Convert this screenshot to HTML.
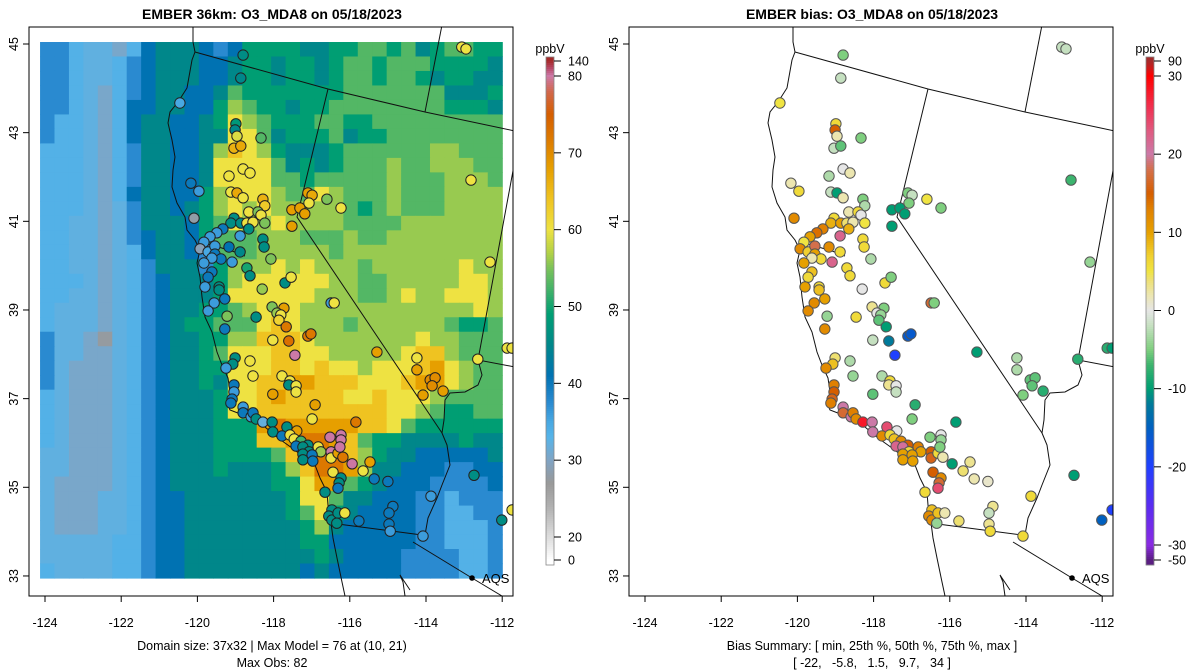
<!DOCTYPE html>
<html><head><meta charset="utf-8"><title>EMBER O3_MDA8</title>
<style>
html,body{margin:0;padding:0;background:#fff;}
svg{display:block;font-family:"Liberation Sans",Arial,sans-serif;}
</style></head>
<body>
<svg id="chart" width="1200" height="672" viewBox="0 0 1200 672" xmlns="http://www.w3.org/2000/svg"></svg>
<script>
// ---------- DATA ----------
const xTicks = [-124, -122, -120, -118, -116, -114, -112];
const yTicks = [45, 43, 41, 39, 37, 35, 33];
const gridLon0 = -124.13, gridLon1 = -112.0, gridLat0 = 45.045, gridLat1 = 32.954;
const codeChars = "0123456789ABCDE";
const codeValues = [27.5, 30.5, 32.3, 33.5, 37.5, 41, 45, 49, 53, 56, 60, 64, 68, 72, 75];
const gridRows = [
"44322135666545777766778878678877",
"44322345666556776776788788877776",
"44322345666556776776788788767766",
"44321345665568777777788888886667",
"44321355665579877677888888887776",
"4332135665567A987778877888888888",
"4332135665566AA86777867788888888",
"3332134665569BA97666788888899888",
"333213466556AAAA8676788898899988",
"333213466556AAAA8878888898889998",
"3332135665579AAA988A988898889999",
"3332124665679A9A9999987898889999",
"3322124666578A99A999988889999999",
"33221245665788899988898899999999",
"33221235665488899999899999999999",
"3322123466647999A9A9998999999A99",
"33321234566679AAAAAA998899999AA9",
"3322123456667AAAAAA999889A99AAA9",
"322212345667789AAA999999999999A9",
"322212345677888ABA99989999998778",
"422102345667799BBBA9999999A99888",
"4221123456678AAABBAA99999ABB9888",
"4211123456677AAABBABAA9AAABCA988",
"4211123456676AABBCCBBBAAABCCA988",
"3211123456667AABCBBBBAABAAA98888",
"3211123456667AABBBBBBBBBAA987788",
"321112345666777CDCCCCCBBA8777777",
"321112345666777BBCDDCB8776666766",
"22111234566677778BCDDB9766555556",
"221112345666766679BDDC9665554455",
"211112345666666677ACC87655544445",
"211122345566666667AA866555443444",
"2111223455666666678A765555443344",
"21112234556666666679655555443334",
"22222334556666666677555555443334",
"22222334556666666667655554444334",
"32222334556666666656555554444334"
];
const stationLon = [-118.80,-118.86,-120.46,-118.99,-119.01,-118.96,-118.33,-119.04,-118.86,-118.80,-118.62,-119.17,-120.17,-119.96,-119.12,-118.96,-118.80,-118.28,-118.23,-120.09,-119.04,-118.65,-118.41,-118.33,-119.12,-118.86,-118.70,-118.54,-118.23,-118.65,-119.33,-119.49,-119.67,-119.83,-118.88,-119.93,-119.72,-119.54,-119.54,-119.38,-119.17,-118.88,-119.62,-119.09,-118.28,-118.25,-118.07,-119.83,-119.62,-119.72,-118.70,-118.62,-119.80,-119.43,-119.43,-119.28,-119.56,-118.30,-117.70,-117.54,-118.04,-117.73,-116.49,-116.41,-117.10,-116.99,-117.07,-116.60,-116.23,-117.52,-117.31,-117.18,-117.52,-113.06,-112.95,-112.82,-112.32,-119.72,-119.22,-118.46,-117.91,-117.81,-117.86,-117.67,-119.28,-118.02,-117.60,-117.10,-117.02,-117.44,-115.29,-119.01,-119.07,-119.25,-118.62,-118.54,-117.78,-117.57,-117.60,-117.41,-117.41,-119.04,-119.04,-119.09,-119.12,-118.02,-116.91,-118.80,-118.80,-118.59,-118.54,-118.46,-118.28,-118.04,-118.02,-116.99,-115.84,-117.65,-117.39,-117.78,-117.57,-117.46,-117.28,-117.10,-117.41,-117.23,-117.07,-116.83,-116.76,-117.23,-117.23,-116.99,-116.97,-116.49,-116.49,-116.31,-116.18,-116.52,-116.23,-116.23,-116.26,-115.94,-115.47,-115.65,-115.36,-115.00,-116.44,-116.23,-116.28,-116.31,-116.65,-116.47,-116.55,-116.47,-116.31,-116.13,-116.34,-115.76,-114.87,-114.97,-114.97,-114.94,-114.24,-114.24,-113.89,-113.76,-113.84,-114.08,-113.55,-112.64,-111.87,-111.74,-112.74,-113.87,-112.01,-111.74,-114.08];
const stationLat = [44.75,44.23,43.67,43.20,43.06,42.92,42.88,42.65,42.70,42.18,42.09,42.02,41.86,41.68,41.66,41.64,41.53,41.50,41.35,41.07,41.07,41.21,41.21,41.14,40.96,40.96,40.96,40.98,40.96,40.83,40.83,40.74,40.65,40.53,40.67,40.38,40.31,40.44,40.26,40.15,40.42,40.31,40.17,40.08,40.60,40.42,40.15,40.06,39.86,39.74,39.95,39.77,39.52,39.52,39.45,39.25,39.16,39.47,39.61,39.74,39.07,39.04,39.16,39.16,41.64,41.59,41.41,41.50,41.30,41.26,41.30,41.17,40.89,44.93,44.89,41.93,40.08,38.98,38.86,38.84,38.93,38.89,38.77,38.62,38.57,38.32,38.30,38.41,38.46,37.98,38.05,37.92,37.78,37.69,37.85,37.51,37.51,37.40,37.31,37.29,37.15,37.31,37.15,36.99,36.90,37.10,36.86,36.81,36.68,36.59,36.68,36.54,36.47,36.47,36.25,36.54,36.47,36.36,36.27,36.16,36.18,36.09,36.04,35.95,35.93,35.91,35.80,35.91,35.80,35.75,35.62,35.73,35.59,35.80,35.66,35.77,35.68,36.13,36.18,36.07,35.91,35.53,35.57,35.37,35.19,35.13,35.34,35.21,35.10,34.98,34.89,34.49,34.35,34.26,34.42,34.42,34.19,34.24,34.57,34.42,34.17,34.01,37.92,37.65,37.42,37.47,37.29,37.08,37.17,37.89,38.14,38.14,35.27,34.80,34.26,34.49,33.90];
const stationObs = [46,45,35,48,45,59,53,66,67,60,60,60,40,36,60,67,60,66,63,28,46,60,55,60,46,46,60,60,55,46,40,36,36,36,36,29,35,36,40,40,41,45,36,36,46,46,55,36,40,40,50,46,36,46,46,40,36,56,46,60,55,68,36,60,68,67,60,55,60,68,68,68,68,60,60,60,60,36,55,46,56,60,62,72,40,60,73,72,72,80,68,46,46,36,60,60,60,60,46,60,60,40,36,40,40,68,68,36,40,36,40,46,32,46,46,60,72,46,68,40,60,60,52,46,40,46,46,60,56,46,46,40,40,80,60,68,72,82,80,80,82,82,68,60,40,40,60,46,46,40,46,46,46,46,46,60,46,40,40,40,40,36,60,68,70,70,70,68,68,60,60,60,46,36,46,60,36];
const stationBias = [-5,-2,5,6,15,2,-5,-2,-6,0,2,-3,2,6,-2,-10,2,-5,-3,12,6,2,6,0,9,10,4,2,5,9,13,14,10,5,22,12,7,18,10,6,12,6,2,22,6,6,-3,10,8,6,6,6,10,6,8,10,12,0,6,-5,3,-5,17,-5,-5,-2,-5,5,-5,-10,-10,-10,-10,-2,-2,-7,-4,12,-4,6,0,-4,-6,-10,12,-2,-12,-16,-16,-20,-10,4,8,12,-3,-4,-3,6,3,0,-2,13,15,16,13,-6,-8,20,17,20,13,12,28,20,20,-5,-10,24,0,12,6,8,12,15,22,21,6,13,10,10,10,10,10,15,16,6,2,-5,0,-4,-5,-10,3,4,2,1,15,12,17,24,6,8,12,12,8,2,-4,4,3,-2,3,6,-3,-3,-6,-6,-6,-5,-8,-8,-8,-10,-10,6,-15,-20,6];
const obsLegendTicks = [0, 20, 30, 40, 50, 60, 70, 80, 140];
const biasLegendTicks = [-50, -30, -20, -10, 0, 10, 20, 30, 90];

// ---------- SCALES / COLORS ----------
const NS = "http://www.w3.org/2000/svg";
const svg = document.getElementById("chart");
function mk(tag, attrs, parent) {
  const e = document.createElementNS(NS, tag);
  for (const k in attrs) e.setAttribute(k, attrs[k]);
  (parent || svg).appendChild(e);
  return e;
}
function xScale(lon, off) { return off + 45 + (lon + 124) * 38.1; }
function yScale(lat) { return 44 + (45 - lat) * 44.33; }
function hex(c){return [parseInt(c.substr(1,2),16),parseInt(c.substr(3,2),16),parseInt(c.substr(5,2),16)];}
function interp(stops, v) {
  if (v <= stops[0][0]) return stops[0][1];
  for (let i = 1; i < stops.length; i++) {
    if (v <= stops[i][0]) {
      const t = (v - stops[i-1][0]) / (stops[i][0] - stops[i-1][0]);
      const a = hex(stops[i-1][1]), b = hex(stops[i][1]);
      return "rgb(" + a.map((x, j) => Math.round(x + (b[j] - x) * t)).join(",") + ")";
    }
  }
  return stops[stops.length-1][1];
}
const obsStops = [[0,'#ffffff'],[20,'#dddddd'],[24,'#b0b0b0'],[27,'#999999'],[30,'#80a4c4'],[33,'#56b4e9'],[35,'#48a8e2'],[37.5,'#2a8ad0'],[41,'#0072b2'],[45,'#00878a'],[49,'#009e73'],[52,'#3fb16a'],[55,'#7cc25a'],[57,'#b3d146'],[60,'#eee242'],[64,'#efc321'],[68,'#e69f00'],[72,'#dc7800'],[75,'#d55e00'],[78,'#d1684e'],[80,'#cc79a7'],[110,'#b84a6a'],[140,'#a52a2a']];
const biasStops = [[-50,'#5a1e82'],[-30,'#8a2be2'],[-25,'#5a2cf0'],[-20,'#2040ff'],[-15,'#0060c0'],[-12,'#007a9a'],[-10,'#009e73'],[-7,'#3cb46e'],[-5,'#7fcf7f'],[-2,'#c5e0c0'],[0,'#e6e6e6'],[2,'#ece6b0'],[4,'#eee070'],[5,'#f0e442'],[7,'#f0d030'],[10,'#e6a000'],[13,'#e08000'],[15,'#d55e00'],[18,'#d4704c'],[20,'#cc79a7'],[23,'#e05a80'],[26,'#f03050'],[30,'#ff0000'],[60,'#d01818'],[90,'#a52a2a']];
const obsBarAnchors = [[0,560],[20,537],[80,76],[140,61]];
const biasBarAnchors = [[-50,560],[-30,545],[30,76],[90,61]];
function barY(anchors, v) {
  for (let i = 1; i < anchors.length; i++) if (v <= anchors[i][0]) {
    const t = (v - anchors[i-1][0]) / (anchors[i][0] - anchors[i-1][0]);
    return anchors[i-1][1] + (anchors[i][1] - anchors[i-1][1]) * t;
  }
  return anchors[anchors.length-1][1];
}
function barVal(anchors, y) {
  for (let i = 1; i < anchors.length; i++) if (y >= anchors[i][1]) {
    const t = (y - anchors[i-1][1]) / (anchors[i][1] - anchors[i-1][1]);
    return anchors[i-1][0] + (anchors[i][0] - anchors[i-1][0]) * t;
  }
  return anchors[anchors.length-1][0];
}

// ---------- MAP OUTLINES (decorative) ----------
const coastPts = "193,20 193,42 195,52 192,60 187,88 178,102 170,112 168,123 172,140 175,157 173,170 172,187 177,203 185,217 187,230 195,240 200,250 197,263 200,277 202,297 205,317 212,332 217,352 222,365 228,378 230,392 227,403 230,410 243,415 257,420 265,427 278,438 292,448 305,458 315,465 320,478 327,492 328,505 330,515 333,538 337,558 342,582 345,596";
const borderLines = [
  "195,52 328,89 425,112 515,131",
  "328,89 297,217 442,433",
  "425,112 442,25",
  "515,160 478,360 515,367",
  "478,360 482,375 478,385 465,392 450,393 445,400 444,420 442,433 447,445 450,465 442,485 437,498 428,518 425,535",
  "330,523 422,535",
  "413,542 472,578 502,596",
  "200,242 215,246 232,251 245,256",
  "405,596 403,582 400,575 410,590"
];

const panels = [
  {off: 0, name: "model", title: "EMBER 36km: O3_MDA8 on 05/18/2023", foot1: "Domain size: 37x32 | Max Model = 76 at (10, 21)", foot2: "Max Obs: 82"},
  {off: 600, name: "bias", title: "EMBER bias: O3_MDA8 on 05/18/2023", foot1: "Bias Summary: [ min, 25th %, 50th %, 75th %, max ]", foot2: "[ -22,   -5.8,   1.5,   9.7,   34 ]"}
];
const defs = mk("defs", {});
panels.forEach((p, pi) => {
  const cp = mk("clipPath", {id: "clip" + pi}, defs);
  mk("rect", {x: 29 + p.off, y: 27, width: 484, height: 569}, cp);
});

panels.forEach((p, pi) => {
  const g = mk("g", {});
  
  
  const plot = mk("g", {"clip-path": "url(#clip" + pi + ")"}, g);
  
  

  if (pi === 0) {
    const hm = mk("g", {}, plot);
    
    
    const x0 = xScale(gridLon0, 0), x1 = xScale(gridLon1, 0);
    const y0 = yScale(gridLat0), y1 = yScale(gridLat1);
    const nr = gridRows.length, nc = 32;
    const cw = (x1 - x0) / nc, ch = (y1 - y0) / nr;
    for (let r = 0; r < nr; r++) for (let c = 0; c < nc; c++) {
      const v = codeValues[codeChars.indexOf(gridRows[r][c])];
      const cell = mk("rect", {x: (x0 + c*cw).toFixed(2), y: (y0 + r*ch).toFixed(2), width: (cw+0.6).toFixed(2), height: (ch+0.6).toFixed(2), fill: interp(obsStops, v)}, hm);
      
      
    }
  }
  const lines = mk("g", {transform: "translate(" + p.off + ",0)", fill: "none", stroke: "#111", "stroke-width": "1"}, plot);
  
  
  const coast = mk("polyline", {points: coastPts}, lines);
  
  
  borderLines.forEach(b => {
    const bl = mk("polyline", {points: b}, lines);
    
    
  });

  const pts = mk("g", {}, plot);
  
  
  for (let i = 0; i < stationLon.length; i++) {
    const val = pi === 0 ? stationObs[i] : stationBias[i];
    const col = pi === 0 ? interp(obsStops, val) : interp(biasStops, val);
    const c = mk("circle", {cx: xScale(stationLon[i], p.off).toFixed(1), cy: yScale(stationLat[i]).toFixed(1), r: 5.2, fill: col, stroke: pi === 0 ? "#222" : "#555", "stroke-width": 1}, pts);
    
    
  }
  const aq = mk("circle", {cx: 472 + p.off, cy: 578, r: 2.8, fill: "#000"}, g);
  
  
  const aqt = mk("text", {x: 482 + p.off, y: 583, "font-size": 13, fill: "#000"}, g);
  aqt.textContent = "AQS";
  
  

  const fr = mk("rect", {x: 29 + p.off, y: 27, width: 484, height: 569, fill: "none", stroke: "#000", "stroke-width": 1}, g);
  
  

  xTicks.forEach(t => {
    const x = xScale(t, p.off);
    const tk = mk("line", {x1: x, x2: x, y1: 596, y2: 602, stroke: "#000"}, g);
    
    
    const tl = mk("text", {x: x, y: 627, "text-anchor": "middle", "font-size": 12.5}, g);
    tl.textContent = String(t);
    
    
  });
  yTicks.forEach(t => {
    const y = yScale(t);
    const tk = mk("line", {x1: 23 + p.off, x2: 29 + p.off, y1: y, y2: y, stroke: "#000"}, g);
    
    
    const tl = mk("text", {x: 18 + p.off, y: y, "text-anchor": "middle", "font-size": 12.5, transform: "rotate(-90 " + (18 + p.off) + " " + y + ")"}, g);
    tl.textContent = String(t);
    
    
  });
  const ti = mk("text", {x: 272 + p.off, y: 19, "text-anchor": "middle", "font-size": 14, "font-weight": "bold"}, g);
  ti.textContent = p.title;
  
  
  const f1 = mk("text", {x: 272 + p.off, y: 650, "text-anchor": "middle", "font-size": 12.5}, g);
  f1.textContent = p.foot1;
  
  
  const f2 = mk("text", {x: 272 + p.off, y: 667, "text-anchor": "middle", "font-size": 12.5}, g);
  f2.textContent = p.foot2;
  f2.style.whiteSpace = "pre";
  
  

  const cb = mk("g", {}, g);
  
  
  const anchors = pi === 0 ? obsBarAnchors : biasBarAnchors;
  const stops = pi === 0 ? obsStops : biasStops;
  const bx = 546 + p.off;
  for (let y = 57; y < 565; y += 2) {
    const v = barVal(anchors, y + 1);
    const s = mk("rect", {x: bx, y: y, width: 8, height: 2.3, fill: interp(stops, v)}, cb);
    
    
  }
  const cbf = mk("rect", {x: bx, y: 57, width: 8, height: 508, fill: "none", stroke: "#888", "stroke-width": 0.8}, cb);
  
  
  const ticks = pi === 0 ? obsLegendTicks : biasLegendTicks;
  ticks.forEach(t => {
    const y = barY(anchors, t);
    const tk = mk("line", {x1: bx + 8, x2: bx + 15, y1: y, y2: y, stroke: "#000"}, cb);
    
    
    const tl = mk("text", {x: bx + 22, y: y + 4.5, "font-size": 12.5}, cb);
    tl.textContent = String(t);
    
    
  });
  const un = mk("text", {x: bx + 4, y: 53, "text-anchor": "middle", "font-size": 12.5}, cb);
  un.textContent = "ppbV";
  
  
});
</script>
</body></html>
